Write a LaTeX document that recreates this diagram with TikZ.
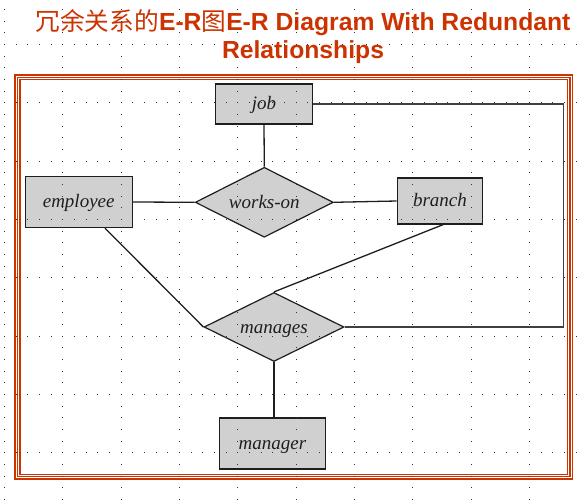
\documentclass[tikz,border=0pt]{standalone}
\usepackage{fontspec}
\newfontfamily\cjk{Noto Sans CJK SC}
\newfontfamily\titlefont{Liberation Sans}
\newfontfamily\labelfont{Liberation Serif}
\usetikzlibrary{shapes.geometric}
\definecolor{titlered}{RGB}{204,51,0}
\definecolor{framered}{RGB}{204,51,0}
\definecolor{boxfill}{RGB}{208,208,208}
\definecolor{ink}{RGB}{30,30,30}
\newcommand\titlelineone{{\cjk 冗余关系的}{\bfseries E-R}{\cjk 图}{\bfseries E-R Diagram With Redundant}}
\newcommand\titlelinetwo{{\bfseries Relationships}}
\begin{document}
\begin{tikzpicture}[x=1pt,y=-1pt,
  entity/.style={draw=ink, line width=1.4pt, fill=boxfill, inner sep=0pt,
    font=\labelfont\fontsize{19}{21}\selectfont\itshape, text=ink,
    text height=13pt, text depth=1pt},
  rel/.style={diamond, draw=ink, line width=1.2pt, fill=boxfill, inner sep=0pt, aspect=2,
    font=\labelfont\fontsize{19}{21}\selectfont\itshape, text=ink,
    text height=13pt, text depth=1pt},
  conn/.style={draw=ink, line width=1.3pt},
  frameline/.style={draw=framered, line width=1.3pt},
  titletxt/.style={anchor=base, inner sep=0pt, font=\titlefont\fontsize{24.7}{28}\selectfont},
  griddot/.style={fill=black!80}]
\useasboundingbox (0,0) rectangle (583,502);
\fill[white] (0,0) rectangle (583,502);
% title
\node[titletxt, text=titlered] (t1) at (303,31) {\titlelineone};
\node[titletxt, text=titlered] (t2) at (303,59) {\titlelinetwo};
% frame
\draw[frameline] (15,75) rectangle (572.5,479);
\draw[frameline] (17.5,77.5) rectangle (570,476.7);
\draw[frameline] (20,79.8) rectangle (567.5,474.3);
% nodes
\node[entity, minimum width=96.6pt, minimum height=40pt] (job) at (264,104) {job};
\node[entity, minimum width=107pt, minimum height=51pt] (employee) at (78.7,202) {employee};
\node[entity, minimum width=85.3pt, minimum height=45.7pt] (branch) at (440,201) {branch};
\node[entity, minimum width=106pt, minimum height=51pt] (manager) at (272.5,443.3) {manager};
\node[rel, minimum width=138pt, minimum height=70pt] (workson) at (264.3,202.3) {works-on};
\node[rel, minimum width=140pt, minimum height=69pt] (manages) at (274,327) {manages};
\coordinate (cR) at (563.3,327);
% connectors
\draw[conn] (job.south) -- (workson.north);
\draw[conn] (employee.east) -- (workson.west);
\draw[conn] (workson.east) -- (branch.west);
\draw[conn] ([xshift=26.3pt]employee.south) -- (manages.west);
\draw[conn] ([xshift=3.3pt]branch.south) -- (manages.north);
\draw[conn, line width=1.5pt, draw=ink!85] (job.east) -| (cR) -- (manages.east);
\draw[conn] (manages.south) -- (manages.south |- manager.north);
% grid dots (overlay)
\foreach \i in {0,...,9} {
  \foreach \j in {0,...,42} {
    \fill[griddot] (4+58.333*\i, 9+11.667*\j) rectangle +(1,1);
  }
}
\foreach \m in {0,...,7} {
  \foreach \k in {0,...,49} {
    \fill[griddot] (4+11.667*\k, 44+58.333*\m) rectangle +(1,1);
  }
}
\end{tikzpicture}
\end{document}
